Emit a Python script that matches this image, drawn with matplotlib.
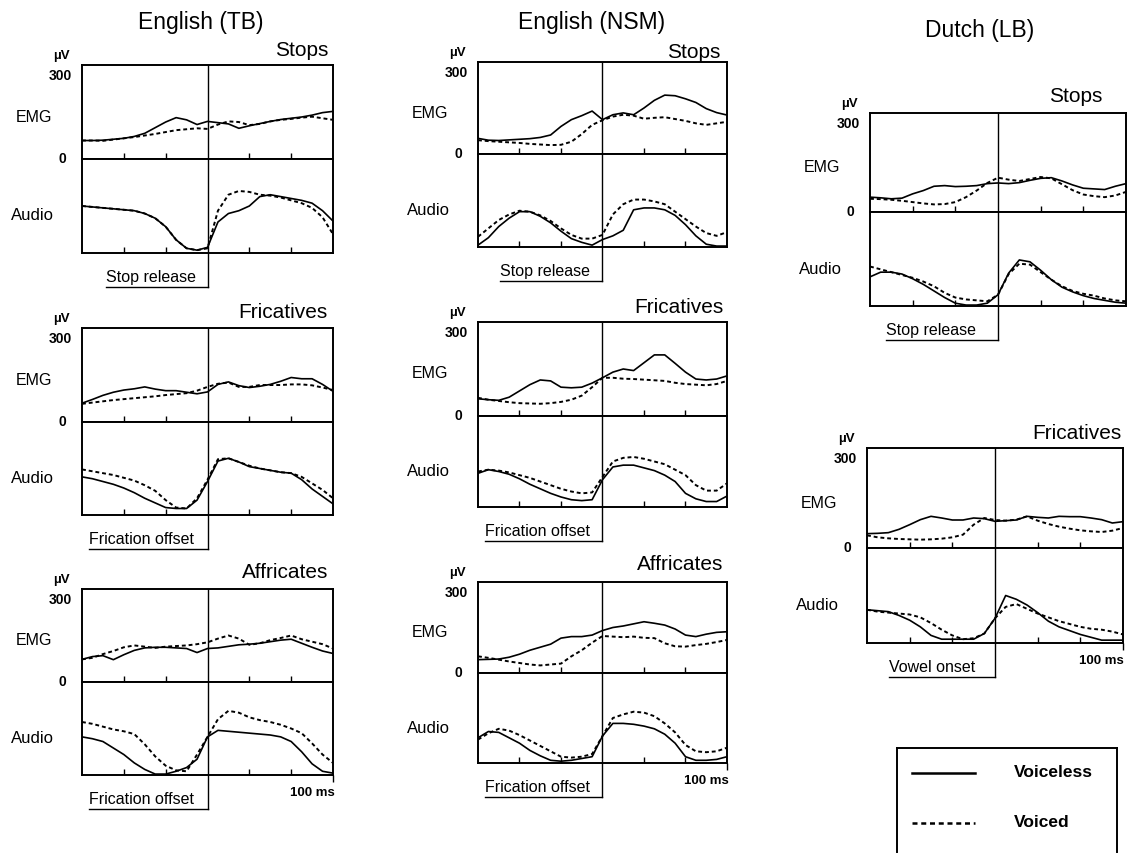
import numpy as np
import matplotlib
matplotlib.use('Agg')
import matplotlib.pyplot as plt
import matplotlib.transforms as mtransforms

plt.rcParams['font.family'] = ['Liberation Sans', 'DejaVu Sans']

# time axis (ms relative to the acoustic event)
t_ms = [-300, -275, -250, -225, -200, -175, -150, -125, -100, -75, -50, -25, 0,
        25, 50, 75, 100, 125, 150, 175, 200, 225, 250, 275, 300]

# ---- English (TB) ----
tb_stops_emg_vl = [59, 59, 60, 63, 66, 72, 82, 100, 118, 132, 125, 110, 120,
                   116, 112, 98, 106, 113, 120, 126, 130, 134, 140, 148, 152]
tb_stops_emg_vd = [59, 59, 58, 62, 66, 70, 75, 80, 86, 92, 95, 98, 96,
                   110, 120, 118, 108, 112, 120, 125, 128, 132, 135, 130, 125]
tb_stops_aud_vl = [50, 49, 48, 47, 46, 45, 42, 37, 28, 14, 5, 3, 6,
                   33, 42, 45, 50, 60, 62, 60, 58, 56, 53, 45, 34]
tb_stops_aud_vd = [50, 49, 48, 47, 46, 45, 42, 37, 28, 14, 5, 3, 5,
                   45, 62, 66, 65, 62, 61, 59, 56, 53, 48, 38, 20]

tb_fric_emg_vl = [60, 72, 85, 95, 102, 106, 112, 105, 100, 100, 95, 90, 96,
                  120, 128, 116, 110, 114, 120, 130, 142, 138, 138, 120, 98]
tb_fric_emg_vd = [58, 62, 66, 70, 73, 76, 79, 82, 86, 89, 92, 100, 112,
                  122, 126, 112, 112, 118, 118, 118, 120, 120, 117, 110, 102]
tb_fric_aud_vl = [41, 39, 36, 33, 29, 24, 18, 13, 8, 7, 7, 16, 36,
                  58, 61, 57, 52, 50, 48, 46, 45, 38, 28, 20, 12]
tb_fric_aud_vd = [49, 47, 45, 43, 40, 37, 32, 26, 16, 8, 7, 18, 38,
                  60, 61, 57, 53, 50, 48, 46, 45, 41, 34, 27, 18]

tb_affr_emg_vl = [73, 82, 85, 72, 88, 102, 110, 112, 112, 110, 108, 95, 108,
                  110, 115, 120, 122, 125, 130, 135, 138, 125, 112, 100, 92]
tb_affr_emg_vd = [73, 78, 90, 100, 112, 118, 114, 110, 114, 116, 118, 122, 128,
                  140, 150, 140, 120, 125, 135, 142, 150, 138, 130, 122, 108]
tb_affr_aud_vl = [41, 39, 36, 29, 22, 13, 6, 1, 1, 4, 8, 17, 41,
                  48, 47, 46, 45, 44, 43, 41, 36, 25, 12, 4, 2]
tb_affr_aud_vd = [57, 55, 52, 49, 47, 44, 33, 20, 10, 5, 4, 22, 41,
                  60, 69, 67, 62, 59, 57, 54, 50, 45, 34, 22, 13]

# ---- English (NSM) ----
nsm_stops_emg_vl = [51, 45, 44, 46, 48, 50, 54, 62, 90, 112, 125, 140, 112,
                    128, 134, 128, 150, 175, 192, 190, 180, 168, 148, 135, 127]
nsm_stops_emg_vd = [45, 42, 40, 38, 36, 33, 31, 29, 30, 40, 65, 95, 110,
                    122, 128, 125, 115, 118, 120, 114, 108, 100, 95, 100, 105]
nsm_stops_aud_vl = [2, 10, 22, 31, 38, 38, 33, 26, 17, 9, 5, 2, 8,
                    12, 18, 40, 42, 42, 40, 34, 24, 12, 3, 1, 1]
nsm_stops_aud_vd = [11, 20, 29, 35, 39, 38, 34, 28, 20, 13, 9, 9, 13,
                    35, 46, 51, 51, 49, 46, 38, 30, 22, 15, 12, 16]

nsm_fric_emg_vl = [55, 52, 50, 60, 80, 100, 115, 112, 92, 90, 92, 105, 122,
                   140, 150, 145, 170, 195, 195, 168, 140, 118, 115, 118, 128]
nsm_fric_emg_vd = [58, 52, 48, 44, 41, 40, 39, 41, 45, 52, 65, 92, 122,
                   122, 119, 118, 116, 114, 112, 106, 102, 100, 98, 102, 112]
nsm_fric_aud_vl = [37, 41, 39, 36, 31, 25, 20, 15, 11, 8, 7, 8, 30,
                   44, 46, 46, 43, 40, 35, 28, 15, 9, 6, 6, 12]
nsm_fric_aud_vd = [39, 41, 40, 38, 35, 32, 28, 24, 20, 17, 15, 16, 33,
                   50, 54, 55, 53, 50, 47, 41, 35, 24, 18, 18, 26]

nsm_affr_emg_vl = [44, 45, 46, 52, 62, 75, 85, 95, 115, 120, 120, 125, 140,
                   150, 155, 162, 169, 164, 158, 145, 125, 120, 128, 134, 136]
nsm_affr_emg_vd = [55, 50, 44, 38, 33, 28, 25, 28, 31, 55, 75, 100, 122,
                   120, 118, 120, 116, 115, 98, 88, 87, 92, 96, 102, 109]
nsm_affr_aud_vl = [28, 35, 34, 28, 22, 14, 8, 3, 2, 3, 5, 7, 30,
                   44, 44, 43, 41, 38, 32, 22, 7, 3, 3, 4, 7]
nsm_affr_aud_vd = [26, 33, 38, 36, 31, 25, 19, 13, 7, 6, 7, 10, 30,
                   50, 54, 57, 56, 52, 44, 34, 20, 13, 12, 13, 17]

# ---- Dutch (LB) ----
lb_stops_emg_vl = [45, 43, 40, 42, 55, 65, 78, 80, 77, 78, 80, 86, 88,
                   86, 89, 96, 102, 104, 94, 82, 72, 70, 68, 78, 86]
lb_stops_emg_vd = [40, 39, 37, 34, 30, 26, 23, 24, 30, 45, 65, 88, 104,
                   98, 94, 100, 106, 102, 84, 66, 53, 48, 45, 50, 61]
lb_stops_aud_vl = [31, 36, 36, 34, 29, 23, 16, 9, 3, 1, 1, 3, 12,
                   35, 49, 47, 38, 28, 20, 15, 11, 8, 6, 4, 3]
lb_stops_aud_vd = [42, 39, 36, 33, 30, 26, 21, 14, 9, 7, 6, 5, 12,
                   34, 45, 44, 36, 28, 21, 16, 13, 11, 8, 6, 5]

lb_fric_emg_vl = [43, 44, 46, 56, 70, 85, 95, 90, 84, 84, 90, 88, 80,
                  82, 84, 95, 92, 90, 95, 94, 94, 90, 85, 75, 79]
lb_fric_emg_vd = [38, 32, 29, 27, 26, 25, 26, 28, 32, 40, 70, 90, 84,
                  82, 85, 95, 82, 72, 64, 58, 53, 50, 48, 52, 60]
lb_fric_aud_vl = [35, 34, 33, 29, 24, 17, 8, 4, 4, 4, 4, 10, 26,
                  50, 46, 40, 32, 23, 17, 13, 9, 6, 3, 3, 3]
lb_fric_aud_vd = [35, 33, 32, 31, 30, 27, 21, 14, 8, 4, 5, 10, 26,
                  38, 41, 36, 31, 27, 23, 20, 17, 15, 14, 12, 9]

W, H = 1128, 855
fig = plt.figure(figsize=(W / 100, H / 100), dpi=100)


def fx(x):
    return x / W


def fy(y):
    return 1 - y / H


def draw_panel(left, right, top, mid, bottom, name, event, ev_left,
               emg_vl, emg_vd, aud_vl, aud_vd, name_dx=5, name_dy=15,
               scale=False):
    ax_e = fig.add_axes([fx(left), fy(mid), fx(right - left), (mid - top) / H])
    ax_a = fig.add_axes([fx(left), fy(bottom), fx(right - left), (bottom - mid) / H])
    ax_e.plot(t_ms, emg_vl, color='black', lw=1.2)
    ax_e.plot(t_ms, emg_vd, color='black', lw=1.4, ls=(0, (2, 1.5)))
    ax_a.plot(t_ms, aud_vl, color='black', lw=1.2)
    ax_a.plot(t_ms, aud_vd, color='black', lw=1.4, ls=(0, (2, 1.5)))
    ax_e.set_ylim(0, 300)
    ax_a.set_ylim(0, 100)
    for ax in (ax_e, ax_a):
        ax.set_xlim(-300, 300)
        ax.axvline(0, color='black', lw=1.0)
        ax.set_xticks([-200, -100, 100, 200])
        ax.set_yticks([])
        ax.tick_params(axis='x', direction='in', length=4, width=1.0,
                       labelbottom=False)
        for s in ax.spines.values():
            s.set_linewidth(1.4)
    tr = mtransforms.blended_transform_factory(ax_a.transData, ax_a.transAxes)
    if scale:
        ax_a.set_xticks([200, 300], minor=True)
        ax_a.tick_params(axis='x', which='minor', direction='out', length=5,
                         width=1.0)
        ax_a.text(250, -0.13, '100 ms', transform=tr, ha='center', va='top',
                  fontsize=9.5, fontweight='bold')
    # event marker below the box
    ext = -34 / (bottom - mid)
    ax_a.plot([0, 0], [0, ext], color='black', lw=1.0, transform=tr, clip_on=False)
    ax_a.plot([ev_left, 0], [ext, ext], color='black', lw=1.0, transform=tr,
              clip_on=False)
    ax_a.text(ev_left, ext + 0.02, event, transform=tr, ha='left', va='bottom',
              fontsize=11.5)
    # labels around the box
    fig.text(fx(right - name_dx), fy(top - name_dy), name, ha='right',
             va='center', fontsize=15)
    fig.text(fx(left - 21), fy(top - 9), 'µV', ha='center', va='center',
             fontsize=9.5, fontweight='bold')
    fig.text(fx(left - 10), fy(top + 11), '300', ha='right', va='center',
             fontsize=10, fontweight='bold')
    fig.text(fx(left - 16), fy(mid), '0', ha='right', va='center',
             fontsize=10, fontweight='bold')
    fig.text(fx(left - 48), fy((top + mid) / 2 + 5), 'EMG', ha='center',
             va='center', fontsize=11.5)
    fig.text(fx(left - 50), fy((mid + bottom) / 2 + 10), 'Audio', ha='center',
             va='center', fontsize=12)


# English (TB)
draw_panel(82, 333, 65, 159, 253, 'Stops', 'Stop release', -243,
           tb_stops_emg_vl, tb_stops_emg_vd, tb_stops_aud_vl, tb_stops_aud_vd)
draw_panel(82, 333, 328, 422, 515, 'Fricatives', 'Frication offset', -284,
           tb_fric_emg_vl, tb_fric_emg_vd, tb_fric_aud_vl, tb_fric_aud_vd,
           name_dy=16)
draw_panel(82, 333, 589, 682, 775, 'Affricates', 'Frication offset', -284,
           tb_affr_emg_vl, tb_affr_emg_vd, tb_affr_aud_vl, tb_affr_aud_vd,
           name_dy=16, scale=True)
# English (NSM)
draw_panel(478, 727, 62, 154, 247, 'Stops', 'Stop release', -246,
           nsm_stops_emg_vl, nsm_stops_emg_vd, nsm_stops_aud_vl, nsm_stops_aud_vd,
           name_dx=7, name_dy=9)
draw_panel(478, 727, 322, 416, 507, 'Fricatives', 'Frication offset', -282,
           nsm_fric_emg_vl, nsm_fric_emg_vd, nsm_fric_aud_vl, nsm_fric_aud_vd,
           name_dx=4)
draw_panel(478, 727, 582, 673, 763, 'Affricates', 'Frication offset', -282,
           nsm_affr_emg_vl, nsm_affr_emg_vd, nsm_affr_aud_vl, nsm_affr_aud_vd,
           name_dx=4, name_dy=18, scale=True)
# Dutch (LB)
draw_panel(870, 1126, 113, 212, 306, 'Stops', 'Stop release', -262,
           lb_stops_emg_vl, lb_stops_emg_vd, lb_stops_aud_vl, lb_stops_aud_vd,
           name_dx=24, name_dy=16)
draw_panel(867, 1123, 448, 548, 643, 'Fricatives', 'Vowel onset', -248,
           lb_fric_emg_vl, lb_fric_emg_vd, lb_fric_aud_vl, lb_fric_aud_vd,
           name_dx=1, scale=True)

# column titles
fig.text(fx(201), fy(22), 'English (TB)', ha='center', va='center', fontsize=16.5)
fig.text(fx(592), fy(22), 'English (NSM)', ha='center', va='center', fontsize=16.5)
fig.text(fx(980), fy(30), 'Dutch (LB)', ha='center', va='center', fontsize=16.5)

# legend box
leg = fig.add_axes([fx(897), fy(852), fx(1117 - 897), (852 - 748) / H])
leg.set_xlim(0, 1)
leg.set_ylim(0, 1)
leg.set_xticks([])
leg.set_yticks([])
for k, s in leg.spines.items():
    s.set_linewidth(1.4)
leg.spines['bottom'].set_visible(False)
leg.plot([0.07, 0.355], [0.76, 0.76], color='black', lw=1.8)
leg.plot([0.07, 0.355], [0.28, 0.28], color='black', lw=1.8, ls=(0, (2, 1.5)))
leg.text(0.53, 0.76, 'Voiceless', ha='left', va='center', fontsize=12.5,
         fontweight='bold')
leg.text(0.53, 0.28, 'Voiced', ha='left', va='center', fontsize=12.5,
         fontweight='bold')

plt.savefig('out.png', dpi=100)
